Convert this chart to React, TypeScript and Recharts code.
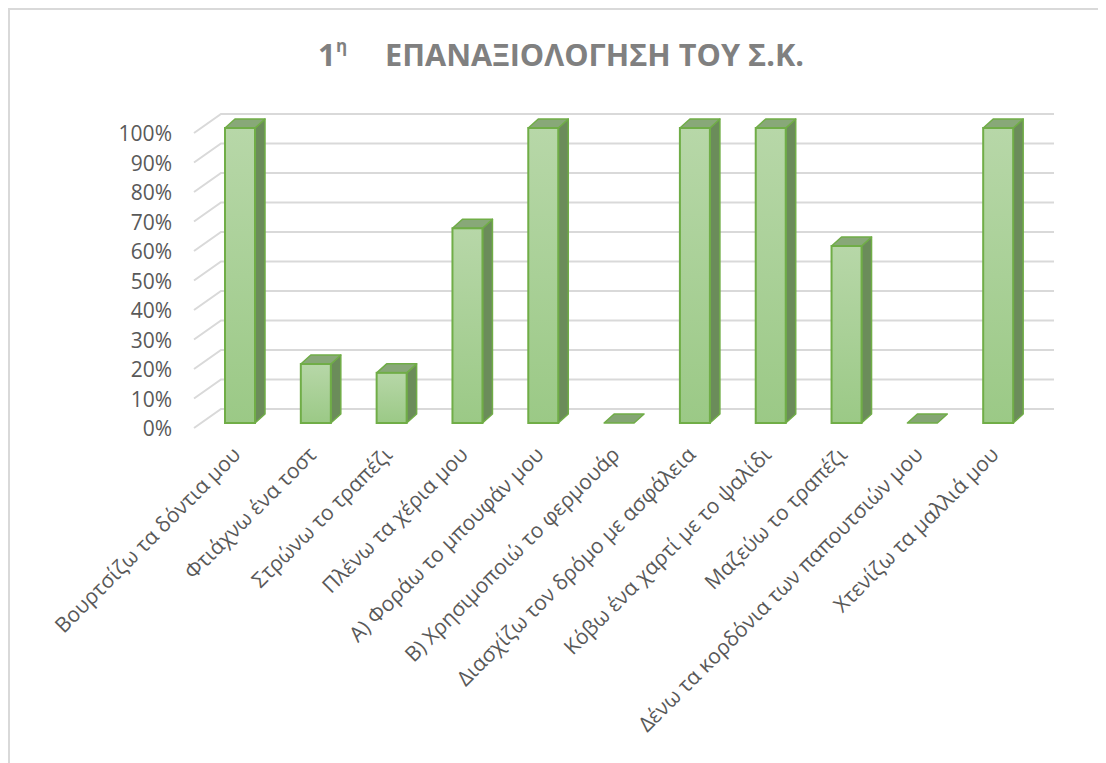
import { BarChart, Bar, XAxis, YAxis, CartesianGrid } from "recharts";

const categories = [
  "Βουρτσίζω τα δόντια μου",
  "Φτιάχνω ένα τοστ",
  "Στρώνω το τραπέζι",
  "Πλένω τα χέρια μου",
  "Α) Φοράω το μπουφάν μου",
  "Β) Χρησιμοποιώ το φερμουάρ",
  "Διασχίζω τον δρόμο με ασφάλεια",
  "Κόβω ένα χαρτί με το ψαλίδι",
  "Μαζεύω το τραπέζι",
  "Δένω τα κορδόνια των παπουτσιών μου",
  "Χτενίζω τα μαλλιά μου",
];
const values = [1, 0.2, 0.17, 0.66, 1, 0, 1, 1, 0.6, 0, 1];
const yTicks = [0, 0.1, 0.2, 0.3, 0.4, 0.5, 0.6, 0.7, 0.8, 0.9, 1];

const data = categories.map((name, i) => ({ name, value: values[i] }));

const DX = 10;
const DY = 9;
const EDGE = "#70ad47";
const TEXT = "#595959";
const FONT = "'Open Sans', 'Noto Sans', sans-serif";

function Bar3D(props: any) {
  const { x, y, width, height } = props;
  const h = Math.max(0, height || 0);
  const top = `${x},${y} ${x + DX},${y - DY} ${x + width + DX},${y - DY} ${x + width},${y}`;
  if (h < 0.5) {
    return <polygon points={top} fill="#84a673" stroke={EDGE} strokeWidth={1.5} strokeLinejoin="round" />;
  }
  const side = `${x + width},${y} ${x + width + DX},${y - DY} ${x + width + DX},${y + h - DY} ${x + width},${y + h}`;
  return (
    <g>
      <polygon points={side} fill="#6b8c5a" stroke={EDGE} strokeWidth={1.5} strokeLinejoin="round" />
      <polygon points={top} fill="#88a878" stroke={EDGE} strokeWidth={1.5} strokeLinejoin="round" />
      <rect x={x} y={y} width={width} height={h} fill="url(#frontGrad)" stroke={EDGE} strokeWidth={2} />
    </g>
  );
}

function GridLine(props: any) {
  const { x1, x2, y1, index } = props;
  const pts = `${x1 - 8},${y1 + 5} ${x1 + 19},${y1 - 14} ${x2 + 18},${y1 - 14}`;
  return <polyline key={`g-${index}`} points={pts} fill="none" stroke="#d9d9d9" strokeWidth={2} />;
}

function YTick(props: any) {
  const { y, payload } = props;
  return (
    <text x={164} y={y + 5} dy={8} textAnchor="end" fill={TEXT} fontSize={21} fontFamily={FONT}>
      {`${Math.round(payload.value * 100)}%`}
    </text>
  );
}

function XTick(props: any) {
  const { x, y, payload } = props;
  const ax = x + 2;
  const ay = y + 25;
  return (
    <text
      x={ax}
      y={ay}
      textAnchor="end"
      fill={TEXT}
      fontSize={21}
      fontFamily={FONT}
      transform={`rotate(-45, ${ax}, ${ay})`}
    >
      {payload.value}
    </text>
  );
}

export default function App() {
  return (
    <div style={{ position: "relative", width: 1098, height: 755 }}>
      <div
        style={{
          position: "absolute",
          left: 0,
          top: 0,
          width: 1098,
          height: 755,
          borderLeft: "2px solid #d9d9d9",
          borderTop: "2px solid #d9d9d9",
          boxSizing: "border-box",
        }}
      />
      <svg width={1098} height={80} style={{ position: "absolute", left: 0, top: 0 }}>
        <g fill="#808080" fontFamily={FONT} fontWeight={700}>
          <text x={310} y={58} fontSize={31}>1</text>
          <text x={328} y={44} fontSize={17}>η</text>
          <text x={377} y={58} fontSize={31} textLength={419} lengthAdjust="spacingAndGlyphs">
            ΕΠΑΝΑΞΙΟΛΟΓΗΣΗ ΤΟΥ Σ.Κ.
          </text>
        </g>
      </svg>
      <div style={{ position: "absolute", left: 0, top: 0 }}>
        <BarChart
          width={1098}
          height={755}
          data={data}
          margin={{ top: 120, right: 70, left: 114, bottom: 40 }}
          barSize={30}
        >
          <defs>
            <linearGradient id="frontGrad" x1="0" y1="0" x2="0" y2="1">
              <stop offset="0%" stopColor="#b7d7a8" />
              <stop offset="100%" stopColor="#9bc986" />
            </linearGradient>
          </defs>
          <CartesianGrid vertical={false} horizontal={GridLine as any} />
          <XAxis
            dataKey="name"
            interval={0}
            height={300}
            axisLine={false}
            tickLine={false}
            tick={<XTick />}
          />
          <YAxis
            domain={[0, 1]}
            ticks={yTicks}
            width={80}
            axisLine={false}
            tickLine={false}
            tick={<YTick />}
          />
          <Bar dataKey="value" shape={<Bar3D />} isAnimationActive={false} />
        </BarChart>
      </div>
    </div>
  );
}
